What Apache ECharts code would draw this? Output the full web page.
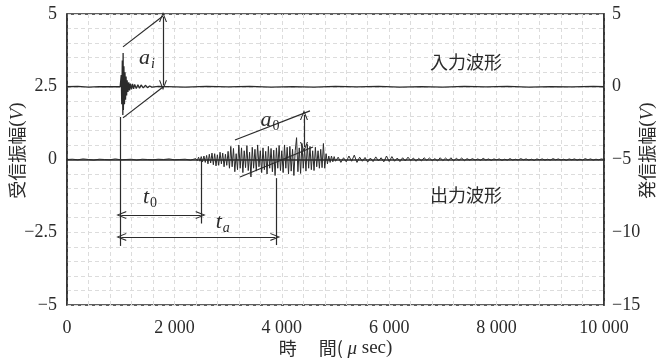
<!DOCTYPE html>
<html>
<head>
<meta charset="utf-8">
<script src="https://cdn.jsdelivr.net/npm/echarts@6.0.0/dist/echarts.min.js"></script>
<style>
html, body { margin: 0; padding: 0; background: #fff; }
#chart { width: 667px; height: 358px; }
</style>
</head>
<body>
<div id="chart"></div>
<script>
// tick values and the way they are printed
const xTicks = [0, 2000, 4000, 6000, 8000, 10000];
const xTickLabels = ['0', '2 000', '4 000', '6 000', '8 000', '10 000'];
const leftTicks = [-5, -2.5, 0, 2.5, 5];
const leftTickLabels = ['−5', '−2.5', '0', '2.5', '5'];
const rightTicks = [-15, -10, -5, 0, 5];
const rightTickLabels = ['−15', '−10', '−5', '0', '5'];

// 入力波形 (発信, right axis), time in usec
const inTime = [0, 200, 400, 600, 800, 990, 1010, 1020, 1030, 1040, 1045, 1050, 1060, 1070, 1080, 1090,
  1100, 1110, 1120, 1135, 1150, 1165, 1180, 1200, 1220, 1240, 1260, 1290, 1320, 1350, 1380, 1420,
  1460, 1500, 1540, 1580, 1700, 2200, 2600, 3000, 3400, 3800, 4200, 4600, 5000, 5400, 5800, 6200,
  6600, 7000, 7400, 7800, 8200, 8600, 9000, 9400, 9800, 10000];
const inVolt = [0, 0.02, -0.02, 0.01, 0, 0, 0.8, -1.2, 1.8, -1.94, 2.32, -1.6, 1.4, -1.2, 1.0, -0.9,
  0.7, -0.6, 0.45, -0.35, 0.3, -0.25, 0.22, -0.18, 0.2, -0.15, 0.16, -0.12, 0.14, -0.1, 0.12, -0.08,
  0.1, -0.06, 0.05, -0.03, 0.02, -0.02, 0.02, -0.01, 0.02, -0.02, 0.01, -0.02, 0.02, -0.01, 0.02, -0.02,
  0.01, -0.02, 0.02, -0.01, 0.02, -0.02, 0.01, -0.01, 0.02, 0];

// 出力波形 (受信, left axis), sampled in three stretches
const outQuietStart = 0, outQuietStep = 100;
const outQuiet = [0, 0.01, -0.01, 0.02, 0, -0.02, 0.01, 0, -0.01, 0.02, -0.01, 0, 0.01, -0.02, 0.01,
  0, -0.01, 0.01, 0, 0.02, -0.01, 0, 0.01, -0.02, 0.03];
const outBurstStart = 2425, outBurstStep = 25;
const outBurst = [-0.04, 0.08, -0.06, 0.1, -0.08, 0.12, -0.1, 0.14,
  -0.15, 0.18, -0.12, 0.22, -0.18, 0.2, -0.22, 0.16, -0.2, 0.25, -0.15, 0.22, -0.25, 0.18, -0.2, 0.28,
  -0.3, 0.45, -0.25, 0.38, -0.42, 0.2, -0.35, 0.5, -0.3, 0.4, -0.45, 0.3, -0.28, 0.48, -0.38, 0.25,
  -0.6, 0.42, -0.3, 0.35,
  -0.4, 0.5, -0.25, 0.3, -0.45, 0.4, -0.35, 0.28, -0.5, 0.45, -0.3, 0.38, -0.42, 0.32, -0.55, 0.4,
  -0.3, 0.48, -0.38, 0.3,
  -0.45, 0.5, -0.3, 0.42, -0.5, 0.45, -0.4, 0.35, -0.55, 0.3, 0.75, -0.42, 0.4, -0.48, 0.55, -0.3,
  0.38, -0.4, 0.52, -0.3,
  0.45, -0.35, 0.3, -0.38, 0.42, -0.25, 0.3, -0.3, 0.35, -0.28, 0.55, -0.3, 0.2, -0.15, 0.12, -0.1,
  0.12, -0.08, 0.1, -0.06];
const outTailStart = 5050, outTailStep = 50;
const outTail = [0.08, -0.1, 0.06, -0.08, 0.12, -0.06, 0.15, -0.1, 0.08, -0.06,
  0.07, -0.09, 0.05, -0.07, 0.09, -0.05, 0.06, -0.08, 0.12, -0.07,
  0.1, -0.06, 0.05, -0.07, 0.06, -0.05, 0.08, -0.04, 0.05, -0.06,
  0.04, -0.05, 0.06, -0.03, 0.05, -0.04, 0.03, -0.05, 0.06, -0.04,
  0.05, -0.04, 0.06, -0.05, 0.04, -0.03, 0.05, -0.04, 0.03, -0.02,
  0.03, -0.02, 0.02, -0.03, 0.04, -0.02, 0.02, -0.03, 0.02, -0.01,
  0.02, -0.03, 0.01, -0.02, 0.03, -0.02, 0.01, -0.02, 0.03, -0.01,
  0.02, -0.02, 0.01, -0.03, 0.02, -0.01, 0.02, -0.02, 0.01, -0.02,
  0.03, -0.01, 0.02, -0.02, 0.01, -0.03, 0.02, -0.01, 0.02, -0.02,
  0.01, -0.02, 0.03, -0.01, 0.02, -0.02, 0.01, -0.01, 0.02, 0];

// guide lines drawn over the plot, in (usec, 受信 V); arrow: 0 none, 1 end, 2 both
const guides = [
  [[1043, 3.87], [1788, 4.93], 0],
  [[1043, 1.43], [1788, 2.49], 0],
  [[1788, 4.9], [1788, 2.55], 2],
  [[1000, 1.46], [1000, -2.97], 0],
  [[2500, 0], [2500, -2.2], 0],
  [[3890, -0.64], [3890, -2.94], 0],
  [[1010, -1.91], [2490, -1.91], 2],
  [[1010, -2.66], [3880, -2.66], 2],
  [[3128, 0.67], [4525, 1.67], 0],
  [[3222, -0.60], [4581, 0.43], 0],
  [[4413, 1.53], [4413, 0.43], 2]
];
// text labels: [text, usec, 受信 V]
const notes = [
  ['{v|a}{s|i}', 1490, 3.49],
  ['{v|a}{d|0}', 3780, 1.36],
  ['{v|t}{d|0}', 1546, -1.29],
  ['{v|t}{s|a}', 2900, -2.15],
  ['{j|入力波形}', 7430, 3.33],
  ['{j|出力波形}', 7430, -1.22]
];

const ink = '#2b2b2b';
const serif = 'Liberation Serif';
const jp = 'Noto Sans CJK JP';

const pair = (start, step, vals) => vals.map((v, i) => [start + i * step, v]);
const outData = pair(outQuietStart, outQuietStep, outQuiet)
  .concat(pair(outBurstStart, outBurstStep, outBurst))
  .concat(pair(outTailStart, outTailStep, outTail));
const inData = inTime.map((t, i) => [t, inVolt[i]]);

const chevron = 'path://M0,10 L5,0 L10,10 L8.6,10 L5,2.6 L1.4,10 Z';
const guideData = guides.map(([a, b, arrow]) => [
  { coord: a, symbol: arrow === 2 ? chevron : 'none', symbolSize: [8, 10] },
  { coord: b, symbol: arrow ? chevron : 'none', symbolSize: [8, 10] }
]);
const noteData = notes.map(([txt, x, y]) => ({ coord: [x, y], value: txt }));

const pick = (ticks, labels) => v => {
  const i = ticks.findIndex(t => Math.abs(t - v) < 1e-6);
  return i < 0 ? '' : labels[i];
};

const grid1 = { type: [4, 3], color: '#dcdcdc', width: 1 };
const nameRich = {
  j: { fontFamily: jp, fontSize: 18, color: ink },
  i: { fontFamily: serif, fontStyle: 'italic', fontSize: 19, color: ink },
  r: { fontFamily: serif, fontSize: 19, color: ink }
};

const option = {
  animation: false,
  backgroundColor: '#fff',
  grid: {
    left: 67, right: 63, top: 14, bottom: 53, containLabel: false, outerBoundsMode: 'none',
    show: true, borderColor: ink, borderWidth: 1.5
  },
  xAxis: {
    type: 'value', min: 0, max: 10000, interval: 2000,
    name: '{j|時　 間(}{i| μ}{r| sec)}', nameLocation: 'middle', nameGap: 34, nameMoveOverlap: false,
    nameTextStyle: { rich: nameRich },
    axisLine: { lineStyle: { color: ink, width: 1.5 } },
    axisTick: { show: false },
    axisLabel: { formatter: pick(xTicks, xTickLabels), fontFamily: serif, fontSize: 18, color: ink, margin: 14 },
    splitLine: { show: true, lineStyle: grid1 },
    minorTick: { show: false, splitNumber: 5 },
    minorSplitLine: { show: true, lineStyle: grid1 }
  },
  yAxis: [{
    type: 'value', min: -5, max: 5, interval: 2.5,
    name: '{j|受信振幅}{r|(}{i|V}{r|)}', nameLocation: 'middle', nameGap: 40, nameRotate: 90,
    nameMoveOverlap: false,
    nameTextStyle: { rich: nameRich, padding: [0, 0, 0, 18] },
    axisLine: { show: true, lineStyle: { color: ink, width: 1.5 } },
    axisTick: { show: false },
    axisLabel: { formatter: pick(leftTicks, leftTickLabels), fontFamily: serif, fontSize: 18, color: ink, margin: 10 },
    splitLine: { show: true, lineStyle: grid1 },
    minorTick: { show: false, splitNumber: 5 },
    minorSplitLine: { show: true, lineStyle: grid1 }
  }, {
    type: 'value', min: -15, max: 5, interval: 5, position: 'right',
    name: '{j|発信振幅}{r|(}{i|V}{r|)}', nameLocation: 'middle', nameGap: 34, nameRotate: 90,
    nameMoveOverlap: false,
    nameTextStyle: { rich: nameRich, padding: [0, 0, 0, 18] },
    axisLine: { show: true, lineStyle: { color: ink, width: 1.5 } },
    axisTick: { show: false },
    axisLabel: { formatter: pick(rightTicks, rightTickLabels), fontFamily: serif, fontSize: 18, color: ink, margin: 8 },
    splitLine: { show: false }
  }],
  series: [{
    name: '出力波形', type: 'line', yAxisIndex: 0, data: outData,
    showSymbol: false, symbol: 'none', silent: true,
    lineStyle: { color: ink, width: 1 },
    markLine: {
      silent: true, symbol: 'none', animation: false,
      label: { show: false },
      lineStyle: { color: ink, width: 1.2, type: 'solid' },
      data: guideData
    },
    markPoint: {
      silent: true, symbol: 'rect', symbolSize: 1,
      itemStyle: { color: 'rgba(0,0,0,0)' },
      label: {
        show: true, position: 'inside', formatter: p => p.value,
        rich: {
          v: { fontFamily: serif, fontStyle: 'italic', fontSize: 22, color: ink },
          s: { fontFamily: serif, fontStyle: 'italic', fontSize: 14, color: ink, verticalAlign: 'bottom', padding: [12, 0, 0, 1] },
          d: { fontFamily: serif, fontSize: 14, color: ink, verticalAlign: 'bottom', padding: [12, 0, 0, 1] },
          j: { fontFamily: jp, fontSize: 18, color: ink, letterSpacing: 1 }
        }
      },
      data: noteData
    }
  }, {
    name: '入力波形', type: 'line', yAxisIndex: 1, data: inData,
    showSymbol: false, symbol: 'none', silent: true,
    lineStyle: { color: ink, width: 1.3 }
  }]
};

const chart = echarts.init(document.getElementById('chart'), null, { renderer: 'canvas' });
chart.setOption(option);
</script>
</body>
</html>
